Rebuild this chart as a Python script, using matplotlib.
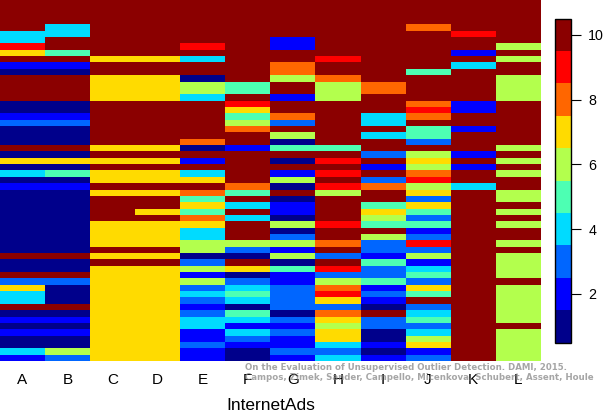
# plot.py
import numpy as np
import matplotlib
matplotlib.use("Agg")
import matplotlib.pyplot as plt
from matplotlib.colors import ListedColormap, BoundaryNorm

W, H = 605, 413

col_labels = ["A", "B", "C", "D", "E", "F", "G", "H", "I", "J", "K", "L"]
level_colors = ["#00008B", "#0000FF", "#0066FF", "#00DBFF", "#4DFFB3",
                "#B3FF4D", "#FFDB00", "#FF6600", "#FF0000", "#8B0000"]
cbar_ticks = [2, 4, 6, 8, 10]

# rank bin of each outlier, top row first
col_a = [10,10,10,10, 10,4,4,9,7,10,2,1,10,10,10,10,1,1,2,3,1,1,1,10,1,7,1,4,1,2,1,1,1,1,1,1,1,1,1,1,10,1,1,10,3,7,4,4,10,1,2,1,2,1,1,4,2]
col_b = [10,10,10,10, 4,4,10,10,5,10,2,1,10,10,10,10,1,1,2,3,1,1,1,10,1,7,1,5,1,2,1,1,1,1,1,1,1,1,1,1,10,1,1,10,3,1,1,1,10,1,2,1,2,1,1,6,3]
col_c = [10,10,10,10, 10,10,10,10,10,7,10,10,7,7,7,7,10,10,10,10,10,10,10,7,10,7,10,7,7,10,7,10,10,10,10,7,7,7,7,10,7,10,7,7,7,7,7,7,7,7,7,7,7,7,7,7,7]
col_d = [10,10,10,10, 10,10,10,10,10,7,10,10,7,7,7,7,10,10,10,10,10,10,10,7,10,7,10,7,7,10,7,10,10,7,10,7,7,7,7,10,7,10,7,7,7,7,7,7,7,7,7,7,7,7,7,7,7]
col_e = [10,10,10,10, 10,10,10,9,10,4,10,10,1,6,6,4,10,10,10,10,10,10,8,1,10,2,10,4,7,10,8,5,7,5,8,7,4,4,6,6,1,3,6,2,6,3,4,3,2,3,4,4,2,2,3,2,2]
col_f = [10,10,10,10, 10,10,10,10,10,10,10,10,10,5,5,10,9,7,5,6,8,10,10,2,10,10,10,10,10,8,5,10,4,10,4,10,10,10,6,3,1,10,7,1,3,4,5,4,1,5,4,2,4,3,2,1,1]
col_g = [10,10,10,10, 10,10,2,2,10,10,8,8,6,10,10,2,10,10,8,3,10,6,1,5,10,1,10,2,6,1,10,1,2,2,1,6,1,3,6,2,6,1,5,2,2,3,3,3,3,1,3,2,3,2,2,3,2]
col_h = [10,10,10,10, 10,10,10,10,10,9,10,10,8,6,6,6,10,10,10,10,10,10,10,5,10,9,10,9,10,9,6,10,10,10,10,9,10,10,8,10,3,10,9,3,6,8,9,7,3,8,7,6,7,7,4,3,4]
col_i = [10,10,10,10, 10,10,10,10,10,10,10,10,10,8,8,10,10,10,4,4,10,4,10,10,3,10,2,10,3,8,10,10,5,7,6,5,10,6,3,3,2,5,3,3,5,2,3,2,1,10,3,3,1,1,2,1,2]
col_j = [10,10,10,10, 8,10,10,10,10,10,10,5,10,10,10,10,8,9,8,10,5,5,3,10,6,7,6,8,9,6,7,3,7,5,3,5,2,3,9,3,6,2,4,5,3,7,5,10,3,4,5,3,4,6,7,2,3]
col_k = [10,10,10,10, 10,9,10,10,2,10,4,10,10,10,10,10,2,2,10,10,2,10,10,10,2,10,2,10,10,4,10,10,10,10,10,10,10,10,10,10,10,10,10,10,10,10,10,10,10,10,10,10,10,10,10,10,10]
col_l = [10,10,10,10, 10,10,10,6,10,6,10,10,6,6,6,6,10,10,10,10,10,10,10,6,10,6,10,6,10,10,6,6,10,6,10,6,10,10,6,10,6,6,6,6,10,6,6,6,6,6,6,10,6,6,6,6,6]

matrix = np.array([col_a, col_b, col_c, col_d, col_e, col_f, col_g, col_h,
                   col_i, col_j, col_k, col_l]).T

cmap = ListedColormap(level_colors)
norm = BoundaryNorm(np.arange(0.5, 11.5, 1), cmap.N)

plt.rcParams["font.family"] = ["Liberation Sans", "DejaVu Sans"]

fig = plt.figure(figsize=(W / 100, H / 100), dpi=100)

# heatmap fills the left of the figure, right up to the top edge
ax = fig.add_axes([0, (H - 361.5) / H, 540.5 / W, 361.5 / H])
mesh = ax.imshow(matrix, cmap=cmap, norm=norm, aspect="auto", interpolation="nearest")
ax.set_xticks(np.arange(len(col_labels)))
ax.set_xticklabels(col_labels, fontsize=11)
ax.tick_params(axis="x", length=0, pad=8)
ax.set_yticks([])
for s in ax.spines.values():
    s.set_visible(False)
fig.text(271 / W, 1 - 405.5 / H, "InternetAds", fontsize=12.5, ha="center", va="center")

# colour key
cax = fig.add_axes([554.5 / W, 1 - 342.5 / H, 16.5 / W, 324 / H])
cb = fig.colorbar(mesh, cax=cax, ticks=cbar_ticks, drawedges=False)
cb.ax.tick_params(labelsize=10.3, length=7, width=0.8, pad=5.5)
cb.ax.minorticks_off()
cb.outline.set_linewidth(1.0)

# watermark over the tick labels
wm = dict(family="DejaVu Sans", fontweight="bold", fontsize=6.2, color="#808080",
          alpha=0.7, ha="left", va="center")
fig.text(245 / W, 1 - 367.5 / H, "On the Evaluation of Unsupervised Outlier Detection. DAMI, 2015.", **wm)
fig.text(245 / W, 1 - 378 / H, "Campos, Zimek, Sander, Campello, Micenkova, Schubert, Assent, Houle", **wm)

fig.savefig("out.png", dpi=100)
